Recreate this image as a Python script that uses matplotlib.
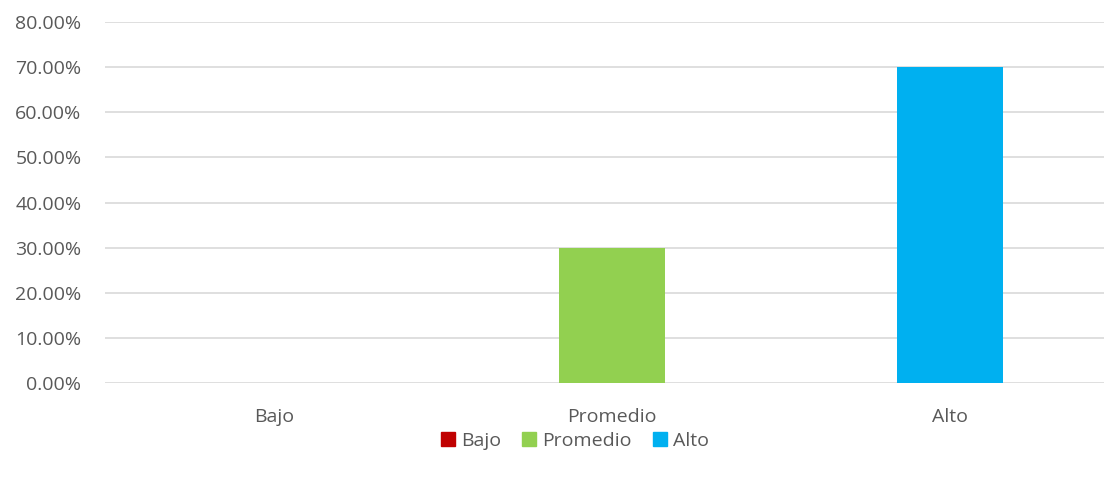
import matplotlib.pyplot as plt
from matplotlib.patches import Patch
from matplotlib.ticker import PercentFormatter

categories = ["Bajo", "Promedio", "Alto"]
values = [0.0, 0.30, 0.70]
colors = ["#C00000", "#92D050", "#00B0F0"]
y_ticks = [0.0, 0.1, 0.2, 0.3, 0.4, 0.5, 0.6, 0.7, 0.8]

plt.rcParams['font.family'] = ['Open Sans', 'DejaVu Sans']
text_color = "#595959"

W, H = 1104, 479
fig = plt.figure(figsize=(W / 100, H / 100), dpi=100)
# plot area runs past the right edge of the picture, as in the reference
left, right, top, bottom = 105, 1119, 22, 383
ax = fig.add_axes([left / W, 1 - bottom / H, (right - left) / W, (bottom - top) / H])

x = range(len(categories))
ax.bar(x, values, width=0.314, color=colors, zorder=3)

ax.set_xlim(-0.5, len(categories) - 0.5)
ax.set_ylim(0, 0.8)
ax.set_yticks(y_ticks)
ax.yaxis.set_major_formatter(PercentFormatter(1.0, decimals=2))
ax.set_xticks(list(x))
ax.set_xticklabels(categories)

ax.grid(axis="y", color="#D9D9D9", linewidth=1.2, zorder=0)
for s in ax.spines.values():
    s.set_visible(False)
ax.tick_params(axis="both", length=0, labelsize=14, colors=text_color)
ax.tick_params(axis="y", pad=17)
ax.tick_params(axis="x", pad=18)

handles = [Patch(color=c, label=l) for c, l in zip(colors, categories)]
fig.legend(handles=handles, loc="center", bbox_to_anchor=(575 / W, 1 - 441 / H),
           ncol=3, frameon=False, fontsize=14, labelcolor=text_color,
           handlelength=0.72, handleheight=0.72, handletextpad=0.3, columnspacing=1.1)

fig.savefig("out.png", dpi=100)
